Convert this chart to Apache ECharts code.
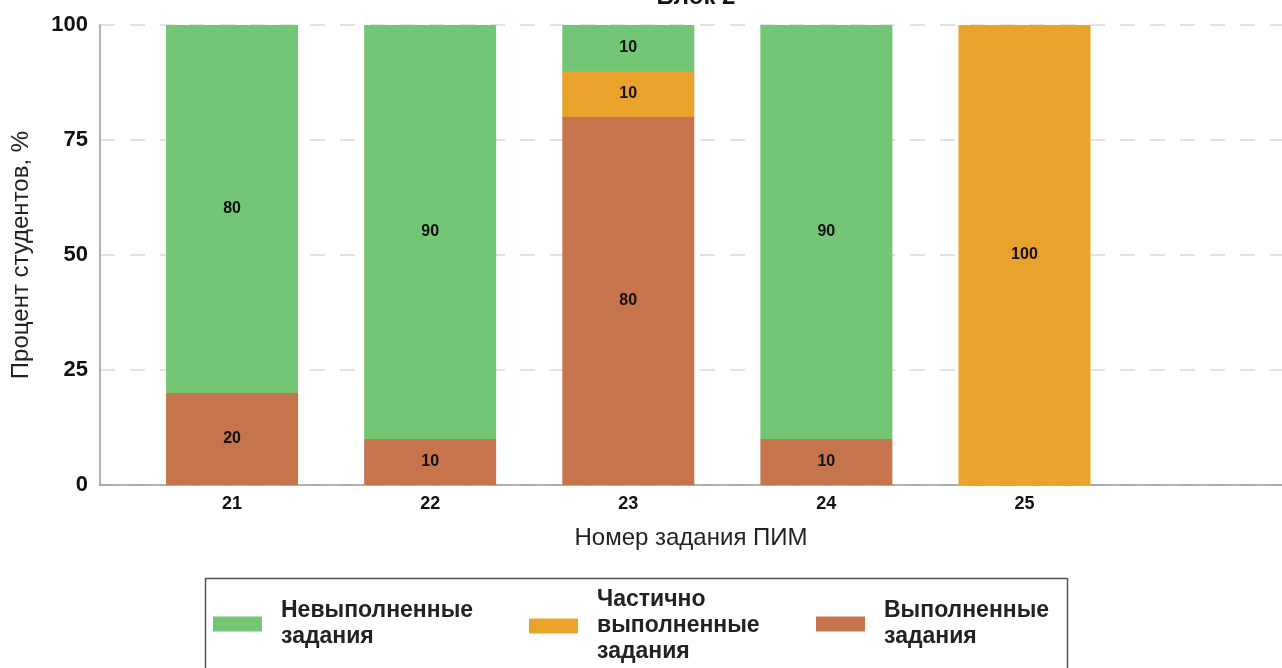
<!DOCTYPE html>
<html>
<head>
<meta charset="utf-8">
<script src="https://cdn.jsdelivr.net/npm/echarts@6/dist/echarts.min.js"></script>
<style>
  html, body { margin: 0; padding: 0; background: #fff; }
  #chart { width: 1282px; height: 668px; }
</style>
</head>
<body>
<div id="chart"></div>
<script>
// Task numbers (x positions) and percentage of students per outcome
const taskNumbers = [21, 22, 23, 24, 25];
const notDone = [80, 90, 10, 90, 0];
const partlyDone = [0, 0, 10, 0, 100];
const done = [20, 10, 80, 10, 0];
const yTicks = [0, 25, 50, 75, 100];

const seriesNames = ['Выполненные задания', 'Частично выполненные задания', 'Невыполненные задания'];
const legendText = {
  'Невыполненные задания': 'Невыполненные\nзадания',
  'Частично выполненные задания': 'Частично\nвыполненные\nзадания',
  'Выполненные задания': 'Выполненные\nзадания'
};
const colors = {
  'Невыполненные задания': '#73C676',
  'Частично выполненные задания': '#E9A22A',
  'Выполненные задания': '#C6744C'
};

const FONT = '"Liberation Sans", Arial, sans-serif';

// Rows are [percent, task]; the percent column comes first so it is the stacked one.
function rows(values) {
  return taskNumbers.map((t, i) => [values[i], t]);
}

function barSeries(name, values) {
  return {
    name: name,
    type: 'bar',
    stack: 'total',
    barWidth: 132,
    encode: { x: 1, y: 0 },
    data: rows(values),
    itemStyle: { color: colors[name] },
    label: {
      show: true,
      position: 'inside',
      color: '#111',
      fontFamily: FONT,
      fontWeight: 'bold',
      fontSize: 16,
      formatter: p => (p.value[0] ? String(p.value[0]) : '')
    }
  };
}

function legendItem(name, left, top) {
  return {
    data: [name],
    left: left,
    top: top,
    padding: 0,
    orient: 'horizontal',
    itemWidth: 49,
    itemHeight: 15,
    selectedMode: false,
    icon: 'rect',
    formatter: n => legendText[n],
    textStyle: {
      fontFamily: FONT,
      fontWeight: 'bold',
      fontSize: 23,
      lineHeight: 26,
      color: '#222',
      padding: [0, 0, 0, 14]
    }
  };
}

const chart = echarts.init(document.getElementById('chart'));
chart.setOption({
  animation: false,
  backgroundColor: '#fff',
  textStyle: { fontFamily: FONT },
  title: {
    text: 'Блок 2',
    left: 691,
    textAlign: 'center',
    top: -20,
    textStyle: { fontFamily: FONT, fontWeight: 'bold', fontSize: 24, color: '#111' }
  },
  grid: { left: 100, right: 0, top: 25, bottom: 183 },
  xAxis: {
    type: 'value',
    min: 20 + 1 / 3,
    max: 26.3,
    name: 'Номер задания ПИМ',
    nameLocation: 'middle',
    nameGap: 41,
    nameTextStyle: { fontFamily: FONT, fontSize: 24, color: '#222' },
    axisLine: { show: true, lineStyle: { color: '#999', width: 1.5 } },
    axisTick: { show: false },
    splitLine: { show: false },
    axisLabel: {
      customValues: taskNumbers,
      formatter: v => String(v),
      margin: 10,
      fontFamily: FONT,
      fontWeight: 'bold',
      fontSize: 18,
      color: '#111'
    }
  },
  yAxis: {
    type: 'value',
    min: 0,
    max: 100,
    interval: 25,
    name: 'Процент студентов, %',
    nameLocation: 'middle',
    nameGap: 67,
    nameTextStyle: { fontFamily: FONT, fontSize: 24, color: '#222' },
    axisLine: { show: true, lineStyle: { color: '#999', width: 1.5 } },
    axisTick: { show: false },
    axisLabel: {
      customValues: yTicks,
      margin: 12,
      fontFamily: FONT,
      fontWeight: 'bold',
      fontSize: 22,
      color: '#111'
    },
    splitLine: { show: true, lineStyle: { color: '#D9D9D9', width: 1.5, type: [15, 15] } }
  },
  legend: [
    legendItem('Невыполненные задания', 213, 598),
    legendItem('Частично выполненные задания', 529, 587),
    legendItem('Выполненные задания', 816, 598)
  ],
  graphic: [{
    type: 'rect',
    shape: { x: 205.5, y: 578.5, width: 862, height: 110 },
    style: { fill: 'none', stroke: '#555', lineWidth: 1.5 },
    silent: true
  }],
  series: [
    barSeries(seriesNames[0], done),
    barSeries(seriesNames[1], partlyDone),
    barSeries(seriesNames[2], notDone)
  ]
});
</script>
</body>
</html>
